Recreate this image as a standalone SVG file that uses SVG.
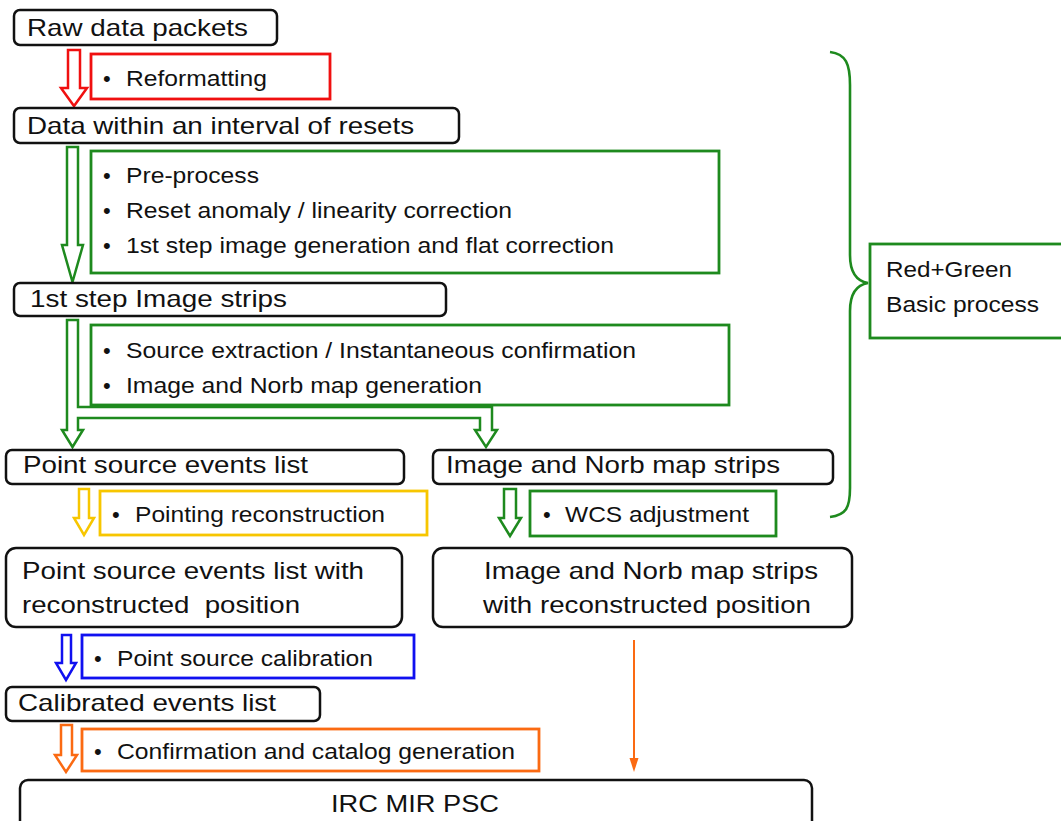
<svg xmlns="http://www.w3.org/2000/svg" width="1061" height="821" viewBox="0 0 1061 821">
<style>
.node{fill:#fff;stroke:#111;stroke-width:2.5}
.t{font-family:"Liberation Sans",Arial,sans-serif;font-size:24px;fill:#111;white-space:pre}
.b{font-family:"Liberation Sans",Arial,sans-serif;font-size:22px;fill:#111}
.step{fill:#fff;stroke-width:2.8}
.arr{fill:#fff;stroke-width:2.5;stroke-linejoin:miter}
.red{stroke:#f01010}.green{stroke:#1e8a1e}.yellow{stroke:#f7c600}.blue{stroke:#1010f0}.orange{stroke:#fb6a12}
</style>

<g id="connectors">
<polygon class="arr red" points="68,50 80,50 80,88 87,88 74,106 61,88 68,88"/>
<polygon class="arr green" points="67,147 78,147 78,245 83,245 72.5,282 62,245 67,245"/>
<polygon class="arr green" points="67,320 78,320 78,407 492,407 492,430 497,430 486,447 475,430 480,430 480,418 78,418 78,430 83,430 72.5,447 62,430 67,430"/>
<polygon class="arr yellow" points="79,489 89,489 89,518 94,518 84,535 74,518 79,518"/>
<polygon class="arr green" points="504,489 516,489 516,518 521,518 510,536 499,518 504,518"/>
<polygon class="arr blue" points="62,635 71,635 71,663 76,663 66,680 56,663 62,663"/>
<polygon class="arr orange" points="61,725 72,725 72,755 77,755 66,772 55,755 61,755"/>
<line x1="634" y1="640" x2="634" y2="760" stroke="#fb6a12" stroke-width="2"/>
<polygon points="629.5,758 638.5,758 634,772" fill="#fb6a12"/>
<path d="M830,52 C846,54 850,64 850,85 L850,255 C850,272 856,281 868,283 C856,285 850,294 850,311 L850,488 C850,508 846,515 830,517" fill="none" stroke="#1e8a1e" stroke-width="2.6"/>
</g>

<g id="n-raw"><rect class="node" x="14" y="10" width="263" height="35" rx="6"/><text class="t" x="27" y="36" textLength="221" lengthAdjust="spacingAndGlyphs">Raw data packets</text></g>
<g id="s-reformat"><rect class="step red" x="91" y="54" width="239" height="45"/><text class="b" x="103" y="86">•</text><text class="b" x="126" y="86" textLength="141" lengthAdjust="spacingAndGlyphs">Reformatting</text></g>
<g id="n-data"><rect class="node" x="14" y="108" width="445" height="35" rx="6"/><text class="t" x="27" y="134" textLength="387" lengthAdjust="spacingAndGlyphs">Data within an interval of resets</text></g>
<g id="s-pre"><rect class="step green" x="91" y="151" width="628" height="122"/>
<text class="b" x="103" y="183">•</text><text class="b" x="126" y="183" textLength="133" lengthAdjust="spacingAndGlyphs">Pre-process</text>
<text class="b" x="103" y="218">•</text><text class="b" x="126" y="218" textLength="386" lengthAdjust="spacingAndGlyphs">Reset anomaly / linearity correction</text>
<text class="b" x="103" y="253">•</text><text class="b" x="126" y="253" textLength="488" lengthAdjust="spacingAndGlyphs">1st step image generation and flat correction</text></g>
<g id="n-strips1"><rect class="node" x="14" y="283" width="432" height="33" rx="6"/><text class="t" x="30" y="307" textLength="257" lengthAdjust="spacingAndGlyphs">1st step Image strips</text></g>
<g id="s-source"><rect class="step green" x="91" y="325" width="638" height="80"/>
<text class="b" x="103" y="358">•</text><text class="b" x="126" y="358" textLength="510" lengthAdjust="spacingAndGlyphs">Source extraction / Instantaneous confirmation</text>
<text class="b" x="103" y="393">•</text><text class="b" x="126" y="393" textLength="356" lengthAdjust="spacingAndGlyphs">Image and Norb map generation</text></g>
<g id="n-pse"><rect class="node" x="6" y="450" width="398" height="34" rx="6"/><text class="t" x="23" y="473" textLength="285" lengthAdjust="spacingAndGlyphs">Point source events list</text></g>
<g id="n-ims"><rect class="node" x="433" y="450" width="400" height="34" rx="6"/><text class="t" x="446" y="473" textLength="334" lengthAdjust="spacingAndGlyphs">Image and Norb map strips</text></g>
<g id="s-point"><rect class="step yellow" x="100" y="491" width="327" height="44"/><text class="b" x="112" y="522">•</text><text class="b" x="135" y="522" textLength="250" lengthAdjust="spacingAndGlyphs">Pointing reconstruction</text></g>
<g id="s-wcs"><rect class="step green" x="530" y="491" width="246" height="45"/><text class="b" x="543" y="522">•</text><text class="b" x="565" y="522" textLength="184" lengthAdjust="spacingAndGlyphs">WCS adjustment</text></g>
<g id="n-pse2"><rect class="node" x="6" y="548" width="396" height="79" rx="10"/><text class="t" x="22" y="579" textLength="342" lengthAdjust="spacingAndGlyphs">Point source events list with</text><text class="t" x="22" y="613" textLength="278" lengthAdjust="spacingAndGlyphs" xml:space="preserve">reconstructed  position</text></g>
<g id="n-ims2"><rect class="node" x="433" y="548" width="419" height="79" rx="10"/><text class="t" x="484" y="579" textLength="334" lengthAdjust="spacingAndGlyphs">Image and Norb map strips</text><text class="t" x="483" y="613" textLength="328" lengthAdjust="spacingAndGlyphs">with reconstructed position</text></g>
<g id="s-cal"><rect class="step blue" x="82" y="635" width="332" height="43"/><text class="b" x="94" y="666">•</text><text class="b" x="117" y="666" textLength="256" lengthAdjust="spacingAndGlyphs">Point source calibration</text></g>
<g id="n-cel"><rect class="node" x="6" y="687" width="314" height="34" rx="6"/><text class="t" x="18" y="711" textLength="258" lengthAdjust="spacingAndGlyphs">Calibrated events list</text></g>
<g id="s-conf"><rect class="step orange" x="82" y="729" width="457" height="42"/><text class="b" x="94" y="759">•</text><text class="b" x="117" y="759" textLength="398" lengthAdjust="spacingAndGlyphs">Confirmation and catalog generation</text></g>
<g id="n-psc"><rect class="node" x="20" y="780" width="792" height="50" rx="8"/><text class="t" x="331" y="812" textLength="168" lengthAdjust="spacingAndGlyphs">IRC MIR PSC</text></g>
<g id="n-basic"><rect class="step green" x="870" y="244" width="195" height="94"/><text class="b" x="886" y="277" textLength="126" lengthAdjust="spacingAndGlyphs">Red+Green</text><text class="b" x="886" y="312" textLength="153" lengthAdjust="spacingAndGlyphs">Basic process</text></g>
</svg>
